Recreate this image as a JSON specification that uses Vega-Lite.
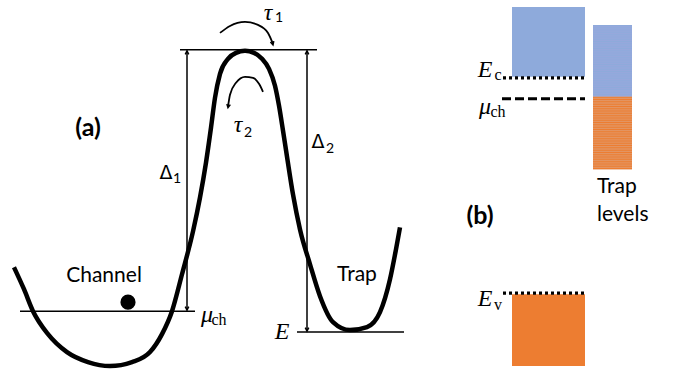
{
  "$schema": "https://vega.github.io/schema/vega-lite/v6.json",
  "width": 685,
  "height": 375,
  "autosize": {"type": "fit", "contains": "padding"},
  "padding": 0,
  "background": "white",
  "config": {"view": {"stroke": null}},
  "datasets": {
    "boxes": [
      {"x": 512, "x2": 585, "y": 7, "y2": 77, "c": "cb"},
      {"x": 512, "x2": 585, "y": 295, "y2": 367, "c": "co"},
      {"x": 593, "x2": 632, "y": 25, "y2": 97, "c": "tb"},
      {"x": 593, "x2": 632, "y": 97, "y2": 170, "c": "to"}
    ],
    "stripes": [
      {"x": 612.5, "y": 25, "y2": 97, "c": "sb"},
      {"x": 612.5, "y": 97, "y2": 170, "c": "so"}
    ],
    "rules": [
      {"x": 180, "x2": 317, "y": 50, "y2": 50},
      {"x": 20, "x2": 195, "y": 312, "y2": 312},
      {"x": 297, "x2": 404, "y": 333, "y2": 333},
      {"x": 187, "x2": 187, "y": 51, "y2": 311},
      {"x": 307, "x2": 307, "y": 51, "y2": 332}
    ],
    "dots": [
      {"x": 503, "x2": 585, "y": 78, "y2": 78, "k": "dot"},
      {"x": 503, "x2": 585, "y": 294, "y2": 294, "k": "dot"},
      {"x": 502, "x2": 585, "y": 99, "y2": 99, "k": "dash"}
    ],
    "curve": [
      {"x": 14, "y": 268}, {"x": 24, "y": 290}, {"x": 33, "y": 312}, {"x": 48, "y": 335},
      {"x": 67, "y": 353}, {"x": 88, "y": 363}, {"x": 110, "y": 367}, {"x": 132, "y": 363},
      {"x": 150, "y": 353}, {"x": 162, "y": 335}, {"x": 172, "y": 312}, {"x": 182, "y": 275},
      {"x": 193, "y": 232}, {"x": 200, "y": 198}, {"x": 206, "y": 163}, {"x": 211, "y": 128},
      {"x": 215, "y": 98}, {"x": 220, "y": 74}, {"x": 228, "y": 59}, {"x": 236, "y": 53},
      {"x": 245, "y": 51}, {"x": 254, "y": 53}, {"x": 262, "y": 59}, {"x": 269, "y": 69},
      {"x": 275, "y": 86}, {"x": 279, "y": 106}, {"x": 283, "y": 131}, {"x": 287, "y": 157},
      {"x": 293, "y": 195}, {"x": 300, "y": 230}, {"x": 310, "y": 265}, {"x": 320, "y": 297},
      {"x": 333, "y": 323}, {"x": 350, "y": 331}, {"x": 367, "y": 328}, {"x": 380, "y": 313},
      {"x": 390, "y": 280}, {"x": 396, "y": 250}, {"x": 400, "y": 228}
    ],
    "arcs": [
      {"g": "t1", "x": 220, "y": 33}, {"g": "t1", "x": 230, "y": 26}, {"g": "t1", "x": 245, "y": 22},
      {"g": "t1", "x": 258, "y": 25}, {"g": "t1", "x": 268, "y": 33}, {"g": "t1", "x": 273, "y": 44},
      {"g": "t2", "x": 228, "y": 107}, {"g": "t2", "x": 230, "y": 95}, {"g": "t2", "x": 236, "y": 83},
      {"g": "t2", "x": 245, "y": 77}, {"g": "t2", "x": 253, "y": 78}, {"g": "t2", "x": 259, "y": 84},
      {"g": "t2", "x": 263, "y": 92}
    ],
    "heads": [
      {"x": 187, "y": 51, "a": 0},
      {"x": 187, "y": 311, "a": 180},
      {"x": 307, "y": 51, "a": 0},
      {"x": 307, "y": 332, "a": 180},
      {"x": 273, "y": 45, "a": 165},
      {"x": 228, "y": 108, "a": 190}
    ],
    "ball": [{"x": 128, "y": 303}],
    "texts": [
      {"x": 88, "y": 128, "t": "(a)", "k": "bold"},
      {"x": 480, "y": 217, "t": "(b)", "k": "bold"},
      {"x": 104, "y": 277, "t": "Channel", "k": "sans"},
      {"x": 357, "y": 276, "t": "Trap", "k": "sans"},
      {"x": 597, "y": 188, "t": "Trap", "k": "sansL"},
      {"x": 597, "y": 216, "t": "levels", "k": "sansL"},
      {"x": 166, "y": 173, "t": "Δ", "k": "delta"},
      {"x": 318, "y": 142, "t": "Δ", "k": "delta"},
      {"x": 177, "y": 179, "t": "1", "k": "sub"},
      {"x": 330, "y": 149, "t": "2", "k": "sub"},
      {"x": 279, "y": 18, "t": "1", "k": "sub"},
      {"x": 248, "y": 133, "t": "2", "k": "sub"},
      {"x": 268, "y": 13, "t": "τ", "k": "tau"},
      {"x": 238, "y": 125, "t": "τ", "k": "tau"},
      {"x": 282, "y": 333, "t": "E", "k": "ital"},
      {"x": 207, "y": 316, "t": "μ", "k": "ital"},
      {"x": 485, "y": 70, "t": "E", "k": "ital"},
      {"x": 485, "y": 107, "t": "μ", "k": "ital"},
      {"x": 485, "y": 300, "t": "E", "k": "ital"},
      {"x": 219, "y": 321, "t": "ch", "k": "rsub"},
      {"x": 498, "y": 75, "t": "c", "k": "rsub"},
      {"x": 498, "y": 112, "t": "ch", "k": "rsub"},
      {"x": 498, "y": 306, "t": "v", "k": "rsub"}
    ]
  },
  "encoding": {
    "x": {"field": "x", "type": "quantitative", "scale": {"domain": [0, 685], "nice": false, "zero": false}, "axis": null},
    "y": {"field": "y", "type": "quantitative", "scale": {"domain": [0, 375], "nice": false, "zero": false, "reverse": true}, "axis": null}
  },
  "layer": [
    {
      "data": {"name": "boxes"},
      "mark": {"type": "rect"},
      "encoding": {
        "x2": {"field": "x2"},
        "y2": {"field": "y2"},
        "color": {"field": "c", "type": "nominal", "scale": {"domain": ["cb", "co", "tb", "to"], "range": ["#8eaadb", "#ed7d31", "#96a8dc", "#e39461"]}, "legend": null}
      }
    },
    {
      "data": {"name": "stripes"},
      "mark": {"type": "rule", "strokeWidth": 39, "strokeDash": [1, 1.3], "strokeCap": "butt", "opacity": 1},
      "encoding": {
        "y2": {"field": "y2"},
        "color": {"field": "c", "type": "nominal", "scale": {"domain": ["sb", "so"], "range": ["#3a54a2", "#b3521a"]}, "legend": null}
      }
    },
    {
      "data": {"name": "rules"},
      "mark": {"type": "rule", "strokeWidth": 1.5, "color": "black"},
      "encoding": {"x2": {"field": "x2"}, "y2": {"field": "y2"}}
    },
    {
      "data": {"name": "dots"},
      "mark": {"type": "rule", "strokeWidth": 3.2, "color": "black", "strokeCap": "butt"},
      "encoding": {
        "x2": {"field": "x2"},
        "y2": {"field": "y2"},
        "strokeDash": {"field": "k", "type": "nominal", "scale": {"domain": ["dot", "dash"], "range": [[3, 3], [9, 4]]}, "legend": null}
      }
    },
    {
      "data": {"name": "curve"},
      "mark": {"type": "line", "interpolate": "monotone", "strokeWidth": 4.5, "color": "black"},
      "encoding": {}
    },
    {
      "data": {"name": "arcs"},
      "mark": {"type": "line", "interpolate": "monotone", "strokeWidth": 1.8, "color": "black"},
      "encoding": {"detail": {"field": "g"}}
    },
    {
      "data": {"name": "heads"},
      "mark": {"type": "point", "shape": "M-0.45,0.9L0,0L0.45,0.9", "filled": false, "stroke": "black", "strokeWidth": 1.5, "size": 60, "opacity": 1},
      "encoding": {"angle": {"field": "a", "type": "quantitative", "scale": null}}
    },
    {
      "data": {"name": "ball"},
      "mark": {"type": "point", "shape": "circle", "filled": true, "color": "black", "size": 230, "opacity": 1},
      "encoding": {}
    },
    {
      "data": {"name": "texts"},
      "transform": [{"filter": "datum.k == 'bold'"}],
      "mark": {"type": "text", "font": "Lato", "fontWeight": "bold", "fontSize": 25, "align": "center", "baseline": "middle", "color": "black"},
      "encoding": {"text": {"field": "t"}}
    },
    {
      "data": {"name": "texts"},
      "transform": [{"filter": "datum.k == 'sans'"}],
      "mark": {"type": "text", "font": "Lato", "fontSize": 21, "align": "center", "baseline": "middle", "color": "black"},
      "encoding": {"text": {"field": "t"}}
    },
    {
      "data": {"name": "texts"},
      "transform": [{"filter": "datum.k == 'sansL'"}],
      "mark": {"type": "text", "font": "Lato", "fontSize": 21, "align": "left", "baseline": "middle", "color": "black"},
      "encoding": {"text": {"field": "t"}}
    },
    {
      "data": {"name": "texts"},
      "transform": [{"filter": "datum.k == 'delta'"}],
      "mark": {"type": "text", "font": "DejaVu Sans", "fontSize": 19, "align": "center", "baseline": "middle", "color": "black"},
      "encoding": {"text": {"field": "t"}}
    },
    {
      "data": {"name": "texts"},
      "transform": [{"filter": "datum.k == 'sub'"}],
      "mark": {"type": "text", "font": "Lato", "fontSize": 14, "align": "center", "baseline": "middle", "color": "black"},
      "encoding": {"text": {"field": "t"}}
    },
    {
      "data": {"name": "texts"},
      "transform": [{"filter": "datum.k == 'tau'"}],
      "mark": {"type": "text", "font": "Liberation Serif", "fontStyle": "italic", "fontSize": 24, "align": "center", "baseline": "middle", "color": "black"},
      "encoding": {"text": {"field": "t"}}
    },
    {
      "data": {"name": "texts"},
      "transform": [{"filter": "datum.k == 'ital'"}],
      "mark": {"type": "text", "font": "Liberation Serif", "fontStyle": "italic", "fontSize": 24, "align": "center", "baseline": "middle", "color": "black"},
      "encoding": {"text": {"field": "t"}}
    },
    {
      "data": {"name": "texts"},
      "transform": [{"filter": "datum.k == 'rsub'"}],
      "mark": {"type": "text", "font": "Liberation Serif", "fontSize": 16, "align": "center", "baseline": "middle", "color": "black"},
      "encoding": {"text": {"field": "t"}}
    }
  ]
}
